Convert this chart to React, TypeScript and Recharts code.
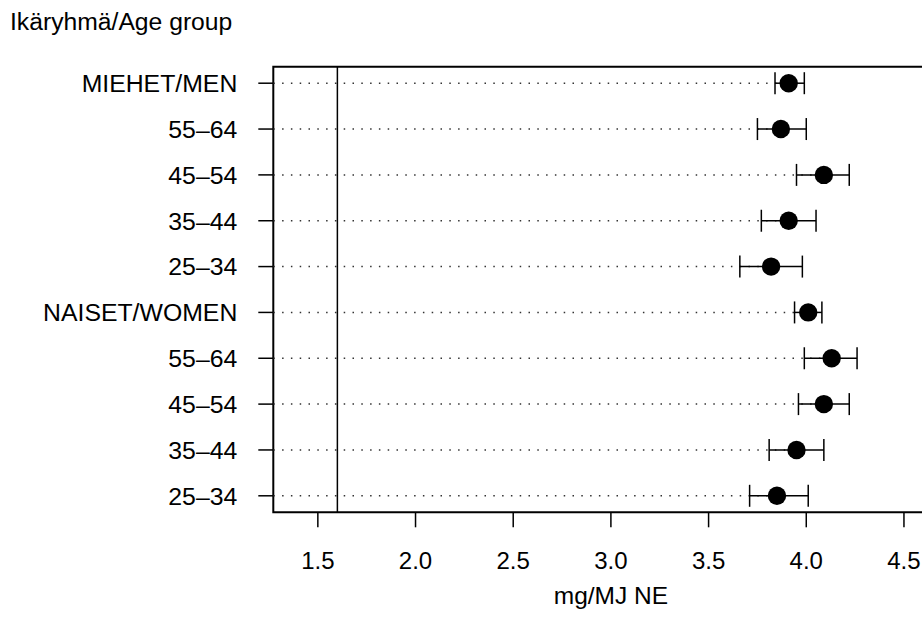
import {
  ComposedChart,
  ErrorBar,
  ReferenceArea,
  ReferenceLine,
  Scatter,
  XAxis,
  YAxis,
} from 'recharts';

// rivit ylhäältä alas
const groups = [
  'MIEHET/MEN',
  '55–64',
  '45–54',
  '35–44',
  '25–34',
  'NAISET/WOMEN',
  '55–64',
  '45–54',
  '35–44',
  '25–34',
];
const means = [3.91, 3.87, 4.09, 3.91, 3.82, 4.01, 4.13, 4.09, 3.95, 3.85];
const lower = [3.84, 3.75, 3.95, 3.77, 3.66, 3.94, 3.99, 3.96, 3.81, 3.71];
const upper = [3.99, 4.0, 4.22, 4.05, 3.98, 4.08, 4.26, 4.22, 4.09, 4.01];
const xTicks = [1.5, 2.0, 2.5, 3.0, 3.5, 4.0, 4.5];
const refValue = 1.6;

const X_MIN = 1.272;
const X_MAX = 4.728;
const Y_MIN = 0.64;
const Y_MAX = 10.36;

const FONT = '"Liberation Sans", Arial, Helvetica, sans-serif';

const data = groups.map((g, i) => ({
  label: g,
  y: groups.length - i,
  x: means[i],
  err: [means[i] - lower[i], upper[i] - means[i]],
}));

const yTicks = data.map((d) => d.y);
const labelByRow = new Map(data.map((d) => [d.y, d.label]));

export default function App() {
  return (
    <div
      style={{
        position: 'absolute',
        left: 0,
        top: 0,
        width: 922,
        height: 629,
        overflow: 'hidden',
        background: '#fff',
        fontFamily: FONT,
      }}
    >
      <div
        style={{
          position: 'absolute',
          left: 10,
          top: 10,
          fontSize: 24.7,
          lineHeight: 1,
          color: '#000',
        }}
      >
        Ikäryhmä/Age group
      </div>
      <ComposedChart
        width={980}
        height={629}
        data={data}
        margin={{ top: 66.7, right: 31.5, left: 0, bottom: 16.7 }}
        style={{ position: 'absolute', left: 0, top: 0 }}
      >
        <XAxis
          type="number"
          dataKey="x"
          domain={[X_MIN, X_MAX]}
          ticks={xTicks}
          allowDataOverflow
          tickFormatter={(v: number) => v.toFixed(1)}
          tick={{ fill: '#000', fontSize: 24, fontFamily: FONT }}
          tickSize={15}
          tickMargin={25}
          tickLine={{ stroke: '#000', strokeWidth: 1.5 }}
          axisLine={false}
          height={100}
          label={{
            value: 'mg/MJ NE',
            position: 'insideBottom',
            offset: 8,
            fill: '#000',
            fontSize: 24.5,
            fontFamily: FONT,
          }}
        />
        <YAxis
          type="number"
          dataKey="y"
          domain={[Y_MIN, Y_MAX]}
          ticks={yTicks}
          allowDataOverflow
          tickFormatter={(v: number) => labelByRow.get(v) ?? ''}
          tick={{ fill: '#000', fontSize: 24.8, fontFamily: FONT }}
          tickSize={15}
          tickMargin={21}
          tickLine={{ stroke: '#000', strokeWidth: 1.5 }}
          axisLine={false}
          width={273.3}
        />
        {data.map((d) => (
          <ReferenceLine
            key={`dots-${d.y}`}
            segment={[
              { x: X_MIN, y: d.y },
              { x: d.x, y: d.y },
            ]}
            stroke="#333"
            strokeWidth={1.5}
            strokeDasharray="1.5 7.3"
          />
        ))}
        <ReferenceLine x={refValue} stroke="#000" strokeWidth={1.5} />
        <ReferenceArea
          x1={X_MIN}
          x2={X_MAX}
          y1={Y_MIN}
          y2={Y_MAX}
          fill="none"
          fillOpacity={0}
          stroke="#000"
          strokeWidth={2}
        />
        <Scatter
          dataKey="y"
          isAnimationActive={false}
          shape={(p: any) => <circle cx={p.cx} cy={p.cy} r={9.2} fill="#000" />}
        >
          <ErrorBar
            dataKey="err"
            direction="x"
            width={11}
            stroke="#000"
            strokeWidth={1.5}
            isAnimationActive={false}
          />
        </Scatter>
      </ComposedChart>
    </div>
  );
}
